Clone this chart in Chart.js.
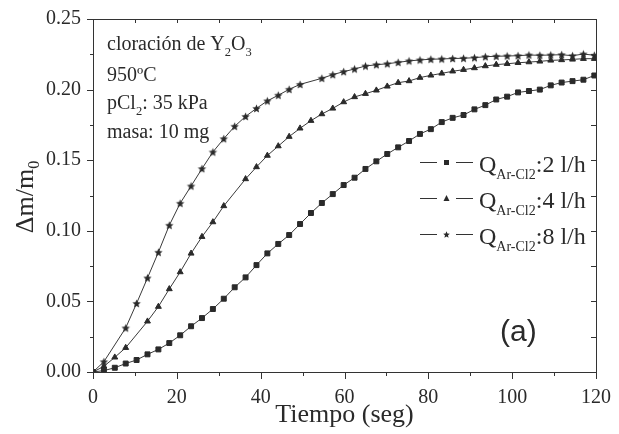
<!DOCTYPE html>
<html>
<head>
<meta charset="utf-8">
<script src="https://cdn.jsdelivr.net/npm/chart.js@4.4.1/dist/chart.umd.min.js"></script>
<style>
  html, body { margin: 0; padding: 0; background: #fff; }
  #wrap { width: 619px; height: 434px; }
</style>
</head>
<body>
<div id="wrap"><canvas id="chart" width="619" height="434"></canvas></div>
<script>
// time axis (s), one reading every 2.6 s
const times = [0, 2.6, 5.2, 7.8, 10.4, 13, 15.6, 18.2, 20.8, 23.4, 26, 28.6, 31.2, 33.8, 36.4, 39,
  41.6, 44.2, 46.8, 49.4, 52, 54.6, 57.2, 59.8, 62.4, 65, 67.6, 70.2, 72.8, 75.4, 78, 80.6,
  83.2, 85.8, 88.4, 91, 93.6, 96.2, 98.8, 101.4, 104, 106.6, 109.2, 111.8, 114.4, 117, 119.6];

// Δm/m0 for each Ar-Cl2 flow (null = no marker in the figure)
const flow2 = [0, 0.001, 0.003, 0.006, 0.0085, 0.0125, 0.016, 0.0205, 0.026, 0.0324, 0.0382, 0.0446,
  0.0519, 0.060, 0.067, 0.0757, 0.084, 0.0907, 0.097, 0.1048, 0.1126, 0.1197, 0.126, 0.1324,
  0.1376, 0.1438, 0.1492, 0.1544, 0.1591, 0.1636, 0.1686, 0.172, 0.177, 0.180, 0.182, 0.186,
  0.189, 0.193, 0.195, 0.198, 0.199, 0.200, 0.203, 0.205, 0.206, 0.207, 0.210];
const flow4 = [0, 0.004, 0.0104, 0.0172, null, 0.0359, 0.0463, 0.0588, 0.0708, 0.084, 0.0958, 0.1062,
  0.1176, null, 0.1367, 0.1452, 0.1533, 0.160, 0.1667, 0.1726, 0.178, 0.1827, 0.1867, 0.1912,
  0.1948, 0.1971, 0.1995, 0.2023, 0.2049, 0.2061, 0.2085, 0.2101, 0.2115, 0.213, 0.2141, 0.2153,
  0.2167, 0.2177, 0.2183, 0.219, 0.2195, 0.220, 0.2207, 0.221, 0.2214, 0.2219, 0.2219];
const flow8 = [0, 0.0073, null, 0.0312, 0.0486, 0.0666, 0.0848, 0.1039, 0.1195, 0.1317, 0.144, 0.1558,
  0.1652, 0.174, 0.181, 0.1867, 0.192, 0.196, 0.2002, 0.2037, null, 0.208, 0.2106, 0.2127,
  0.2146, 0.2167, 0.2176, 0.2183, 0.2193, 0.2203, 0.221, 0.2215, 0.2217, 0.222, 0.2222, 0.2226,
  0.2233, 0.2236, 0.2238, 0.224, 0.2245, 0.2243, 0.2245, 0.2247, 0.224, 0.2252, 0.2243];

const flowLabels = [':2 l/h', ':4 l/h', ':8 l/h'];
const notes = [
  [['cloración de Y'], ['2', true], ['O'], ['3', true]],
  [['950ºC']],
  [['pCl'], ['2', true], [': 35 kPa']],
  [['masa: 10 mg']],
];

const ink = '#2a2a2a';
const serif = "'Liberation Serif', 'Times New Roman', serif";

function makeStar(r) {
  const c = document.createElement('canvas');
  const s = Math.ceil(r * 2) + 2;
  c.width = c.height = s;
  const g = c.getContext('2d');
  g.fillStyle = ink;
  g.beginPath();
  for (let i = 0; i < 10; i++) {
    const a = -Math.PI / 2 + i * Math.PI / 5;
    const rr = i % 2 ? r * 0.45 : r;
    g.lineTo(s / 2 + rr * Math.cos(a), s / 2 + rr * Math.sin(a) + r * 0.1);
  }
  g.closePath();
  g.fill();
  return c;
}
const bigStar = makeStar(4.4);
const smallStar = makeStar(3.5);

function richText(ctx, parts, x, y, size, subSize) {
  for (const [txt, sub] of parts) {
    ctx.font = `${sub ? subSize : size}px ${serif}`;
    ctx.fillText(txt, x, sub ? y + size * 0.3 : y);
    x += ctx.measureText(txt).width;
  }
  return x;
}

const points = vals => times.map((t, i) => ({x: t, y: vals[i]}));

const decor = {
  id: 'decor',
  afterDatasetsDraw(chart) {
    const {ctx, chartArea: a, scales: {x, y}} = chart;
    ctx.save();
    ctx.strokeStyle = '#333';
    ctx.lineWidth = 1;
    ctx.strokeRect(a.left + 0.5, a.top + 0.5, a.right - a.left, a.bottom - a.top);
    ctx.beginPath();
    for (let i = 0; i <= 12; i++) {
      const px = Math.round(x.getPixelForValue(i * 10)) + 0.5;
      const len = i % 2 ? 4 : 7;
      ctx.moveTo(px, a.bottom); ctx.lineTo(px, a.bottom + len);
      ctx.moveTo(px, a.top); ctx.lineTo(px, a.top + 4);
    }
    for (let i = 0; i <= 10; i++) {
      const py = Math.round(y.getPixelForValue(i * 0.025)) + 0.5;
      const len = i % 2 ? 3 : 6;
      ctx.moveTo(a.left, py); ctx.lineTo(a.left - len, py);
      ctx.moveTo(a.right, py); ctx.lineTo(a.right - 5, py);
    }
    ctx.stroke();

    ctx.fillStyle = ink;
    ctx.textBaseline = 'alphabetic';
    ctx.textAlign = 'left';
    // notes block
    const noteY = [50, 81, 109, 138];
    notes.forEach((parts, i) => richText(ctx, parts, 107, noteY[i], 20, 12.5));

    // legend
    const rowY = [172, 208, 244];
    rowY.forEach((by, i) => {
      const ly = by - 9.5;
      ctx.beginPath();
      ctx.moveTo(420, ly); ctx.lineTo(437, ly);
      ctx.moveTo(456, ly); ctx.lineTo(473, ly);
      ctx.stroke();
      if (i === 0) ctx.fillRect(444, ly - 2.5, 5, 5);
      else if (i === 1) {
        ctx.beginPath();
        ctx.moveTo(446.5, ly - 3.5); ctx.lineTo(449.5, ly + 2.5); ctx.lineTo(443.5, ly + 2.5);
        ctx.closePath(); ctx.fill();
      } else ctx.drawImage(smallStar, 446.5 - smallStar.width / 2, ly - smallStar.height / 2);
      richText(ctx, [['Q'], ['Ar-Cl2', true], [flowLabels[i]]], 479, by, 24, 14);
    });

    // panel tag
    ctx.font = "30px 'Liberation Sans', Arial, sans-serif";
    ctx.fillText('(a)', 500, 341);

    // y-axis title with subscript
    ctx.translate(33, 197);
    ctx.rotate(-Math.PI / 2);
    ctx.font = `26px ${serif}`;
    const w1 = ctx.measureText('Δm/m').width;
    ctx.font = `16px ${serif}`;
    const w2 = ctx.measureText('0').width;
    const sx = -(w1 + w2) / 2;
    ctx.font = `26px ${serif}`;
    ctx.fillText('Δm/m', sx, 0);
    ctx.font = `16px ${serif}`;
    ctx.fillText('0', sx + w1, 6);
    ctx.restore();
  }
};

const lineStyle = {borderColor: '#3a3a3a', borderWidth: 1, tension: 0, spanGaps: true,
  pointBackgroundColor: ink, pointBorderColor: ink, pointBorderWidth: 1};

new Chart(document.getElementById('chart'), {
  type: 'line',
  data: {
    datasets: [
      {...lineStyle, label: 'QAr-Cl2:2 l/h', data: points(flow2), pointStyle: 'rect', pointRadius: 3.5},
      {...lineStyle, label: 'QAr-Cl2:4 l/h', data: points(flow4), pointStyle: 'triangle', pointRadius: 3.4},
      {...lineStyle, label: 'QAr-Cl2:8 l/h', data: points(flow8), pointStyle: bigStar, pointRadius: 4.5},
    ],
  },
  options: {
    responsive: false,
    animation: false,
    devicePixelRatio: 1,
    layout: {padding: {top: 19, right: 23, left: 0, bottom: 0}},
    plugins: {legend: {display: false}, tooltip: {enabled: false}},
    scales: {
      x: {
        type: 'linear', min: 0, max: 120,
        grid: {display: false, drawTicks: false}, border: {display: false},
        ticks: {stepSize: 20, padding: 14, color: ink, font: {family: serif, size: 20}, maxRotation: 0},
        title: {display: true, text: 'Tiempo (seg)', color: ink, font: {family: serif, size: 26}, padding: {top: 0, bottom: 3}},
        afterFit: s => { s.height = 62; s.paddingLeft = 0; s.paddingRight = 0; },
      },
      y: {
        min: 0, max: 0.25,
        grid: {display: false, drawTicks: false}, border: {display: false},
        ticks: {stepSize: 0.05, padding: 12, color: ink, font: {family: serif, size: 20},
          callback: v => v.toFixed(2)},
        afterFit: s => { s.width = 93; s.paddingTop = 0; s.paddingBottom = 0; },
      },
    },
  },
  plugins: [decor],
});
</script>
</body>
</html>
